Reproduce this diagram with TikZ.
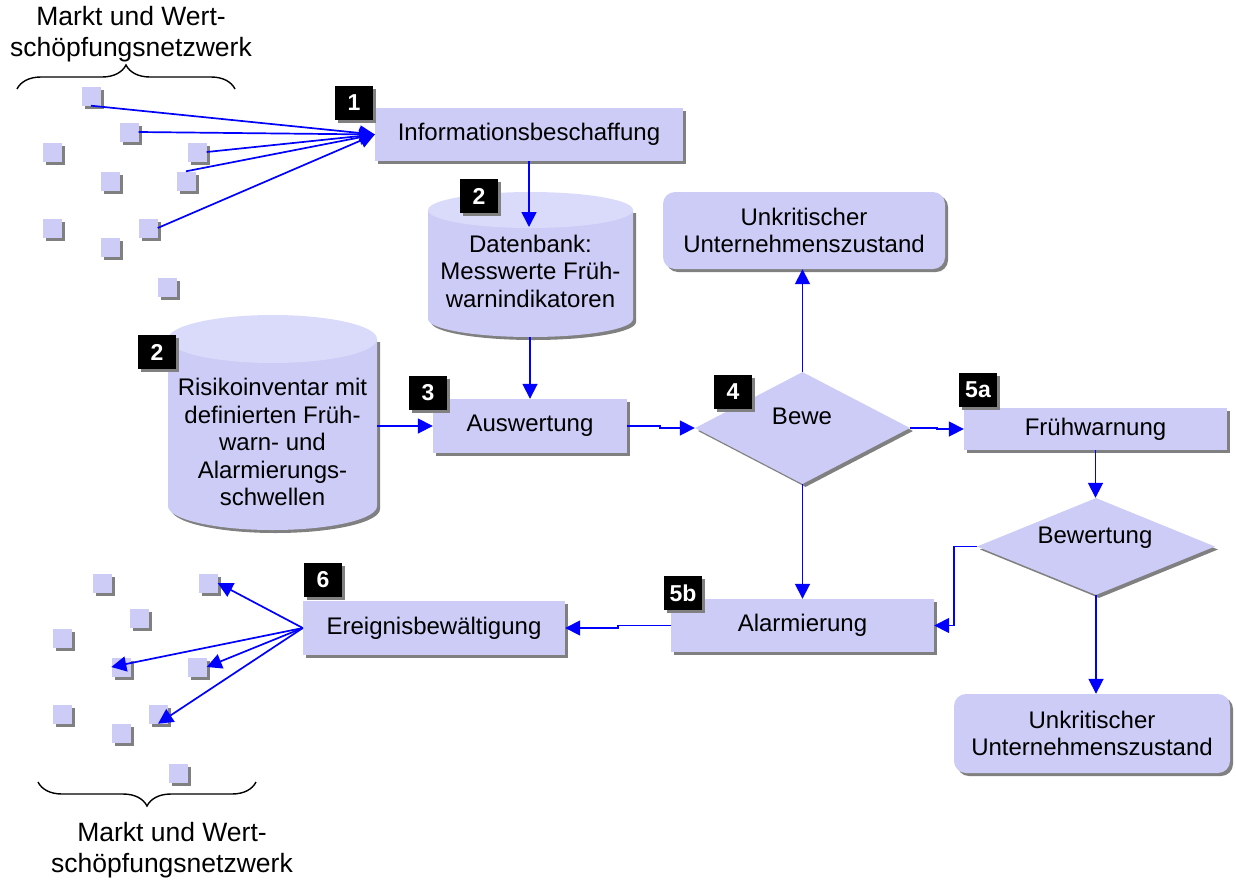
\documentclass[tikz,border=0pt]{standalone}
\usepackage{fontspec}
\setmainfont{Liberation Sans}
\usetikzlibrary{arrows.meta,shapes.geometric,shadows,decorations.pathreplacing}
\definecolor{lav}{RGB}{204,204,246}
\definecolor{lavtop}{RGB}{218,219,250}
\definecolor{shgray}{RGB}{128,128,128}
\definecolor{arrblue}{RGB}{0,0,255}
\begin{document}
\begin{tikzpicture}[x=1pt,y=1pt,
  shadowed/.style={drop shadow={shadow xshift=3pt,shadow yshift=-3pt,fill=shgray,opacity=1}},
  box/.style={rectangle,fill=lav,shadowed,inner sep=0pt,font=\fontsize{24}{27.5}\selectfont,align=center},
  rbox/.style={box,rounded corners=12pt},
  diam/.style={diamond,fill=lav,shadowed,inner sep=0pt},
  tag/.style={rectangle,fill=black,text=white,font=\fontsize{23}{24}\selectfont\bfseries,minimum width=38pt,minimum height=34pt,inner sep=0pt,shadowed},
  sq/.style={rectangle,fill=lav,shadowed,minimum size=19pt,inner sep=0pt},
  txt/.style={font=\fontsize{24}{27.5}\selectfont,align=center,inner sep=0pt},
  btxt/.style={font=\fontsize{26.5}{31}\selectfont,align=center,inner sep=0pt},
  conn/.style={draw=arrblue,line width=1.7pt,-{Triangle[length=15pt,width=15pt]}},
  brc/.style={draw=black,line width=1.4pt,decorate,decoration={brace,amplitude=24pt}}
]
\useasboundingbox (0,0) rectangle (1236,-881);

% ---- cylinders
% Datenbank
\fill[shgray] (431,-213) -- (431,-322) arc[start angle=180,end angle=360,x radius=102.5,y radius=18] -- (636,-213) -- cycle;
\fill[lav] (428,-210) -- (428,-319) arc[start angle=180,end angle=360,x radius=102.5,y radius=18] -- (633,-210) -- cycle;
\fill[lavtop] (530.5,-210) ellipse[x radius=102.5,y radius=18];
% Risikoinventar
\fill[shgray] (171,-342) -- (171,-509) arc[start angle=180,end angle=360,x radius=104.5,y radius=24] -- (380,-342) -- cycle;
\fill[lav] (168,-339) -- (168,-506) arc[start angle=180,end angle=360,x radius=104.5,y radius=24] -- (377,-339) -- cycle;
\fill[lavtop] (272.5,-339) ellipse[x radius=104.5,y radius=24];

\node[txt] (dbt) at (530.5,-271) {Datenbank:\\Messwerte Früh-\\warnindikatoren};
\node[txt] (riskt) at (272.5,-442) {Risikoinventar mit\\definierten Früh-\\warn- und\\Alarmierungs-\\schwellen};
\coordinate (dbin) at (529,-227);
\coordinate (dbout) at (530,-337);
\coordinate (riskout) at (377,-426);

% ---- boxes
\node[box,minimum width=308pt,minimum height=53pt] (info) at (529,-134.5) {Informationsbeschaffung};
\node[box,minimum width=194pt,minimum height=54pt] (ausw) at (530,-426) {Auswertung};
\node[rbox,minimum width=282pt,minimum height=77pt] (unk1) at (804,-230.5) {Unkritischer\\Unternehmenszustand};
\node[diam,minimum width=215pt,minimum height=112pt] (d4) at (802.5,-428) {};
\node[txt] (d4t) at (802,-416) {Bewe};
\node[box,minimum width=263pt,minimum height=42pt] (fw) at (1095.5,-429) {Frühwarnung};
\node[diam,minimum width=238pt,minimum height=97pt] (bw) at (1096,-546.5) {};
\node[txt] (bwt) at (1095,-538) {Bewertung};
\node[rbox,minimum width=276pt,minimum height=79pt] (unk2) at (1092,-733.5) {Unkritischer\\Unternehmenszustand};
\node[box,minimum width=263pt,minimum height=53pt] (alarm) at (802.5,-625.5) {Alarmierung};
\node[box,minimum width=262pt,minimum height=54pt] (erg) at (434,-628) {Ereignisbewältigung};

% ---- small squares (top)
\node[sq] (s1) at (91,-96) {};
\node[sq] (s2) at (129,-132) {};
\node[sq] (s3) at (52,-152) {};
\node[sq] (s4) at (197,-152) {};
\node[sq] (s5) at (110,-181) {};
\node[sq] (s6) at (186,-181) {};
\node[sq] (s7) at (52,-228) {};
\node[sq] (s8) at (148,-228) {};
\node[sq] (s9) at (110,-247) {};
\node[sq] (s10) at (167,-287) {};
% ---- small squares (bottom)
\node[sq] (b1) at (102,-583) {};
\node[sq] (b2) at (208,-583) {};
\node[sq] (b3) at (139,-618) {};
\node[sq] (b4) at (62,-638) {};
\node[sq] (b5) at (121,-667) {};
\node[sq] (b6) at (197,-667) {};
\node[sq] (b7) at (62,-714) {};
\node[sq] (b8) at (158,-714) {};
\node[sq] (b9) at (121,-733) {};
\node[sq] (b10) at (178,-773) {};

% ---- tags
\node[tag] (t1) at (354,-103) {1};
\node[tag] (t2a) at (479,-196) {2};
\node[tag] (t2b) at (157,-352) {2};
\node[tag] (t3) at (428,-393) {3};
\node[tag] (t4) at (733,-392) {4};
\node[tag] (t5a) at (978,-390) {5a};
\node[tag] (t5b) at (683,-593) {5b};
\node[tag] (t6) at (323,-580) {6};

% ---- connectors
\draw[conn] (s1.south) -- (info.west);
\draw[conn] (s2.east) -- (info.west);
\draw[conn] (s4.east) -- (info.west);
\draw[conn] (s6.north) -- (info.west);
\draw[conn] (s8.east) -- (info.west);

\draw[conn] (erg.west) -- (b2.east);
\draw[conn] (erg.west) -- (b5.west);
\draw[conn] (erg.west) -- (b6.east);
\draw[conn] (erg.west) -- (b8.south);

\draw[conn] (info.south) -- (dbin);
\draw[conn] (dbout) -- (ausw.north);
\draw[conn] (riskout) -- (ausw.west);
\draw[conn] (ausw.east) -- ++(33,0) |- (d4.west);
\draw[conn] (d4.north) -- (d4.north |- unk1.south);
\draw[conn] (d4.east) -- ++(27,0) |- (fw.west);
\draw[conn] (fw.south) -- (fw.south |- bw.north);
\draw[conn] (d4.south) -- (d4.south |- alarm.north);
\draw[conn] (bw.west) -- ++(-23,0) |- (alarm.east);
\draw[conn] (bw.south) -- (bw.south |- unk2.north);
\draw[conn] (alarm.west) -- ++(-53,0) |- (erg.east);

% ---- braces and labels
\draw[brc] (17,-89) -- (235,-89);
\draw[brc] (256,-782) -- (38,-782);
\node[btxt] (toplbl) at (131,-34) {Markt und Wert-\\schöpfungsnetzwerk};
\node[btxt] (botlbl) at (172,-850) {Markt und Wert-\\schöpfungsnetzwerk};
\end{tikzpicture}
\end{document}
